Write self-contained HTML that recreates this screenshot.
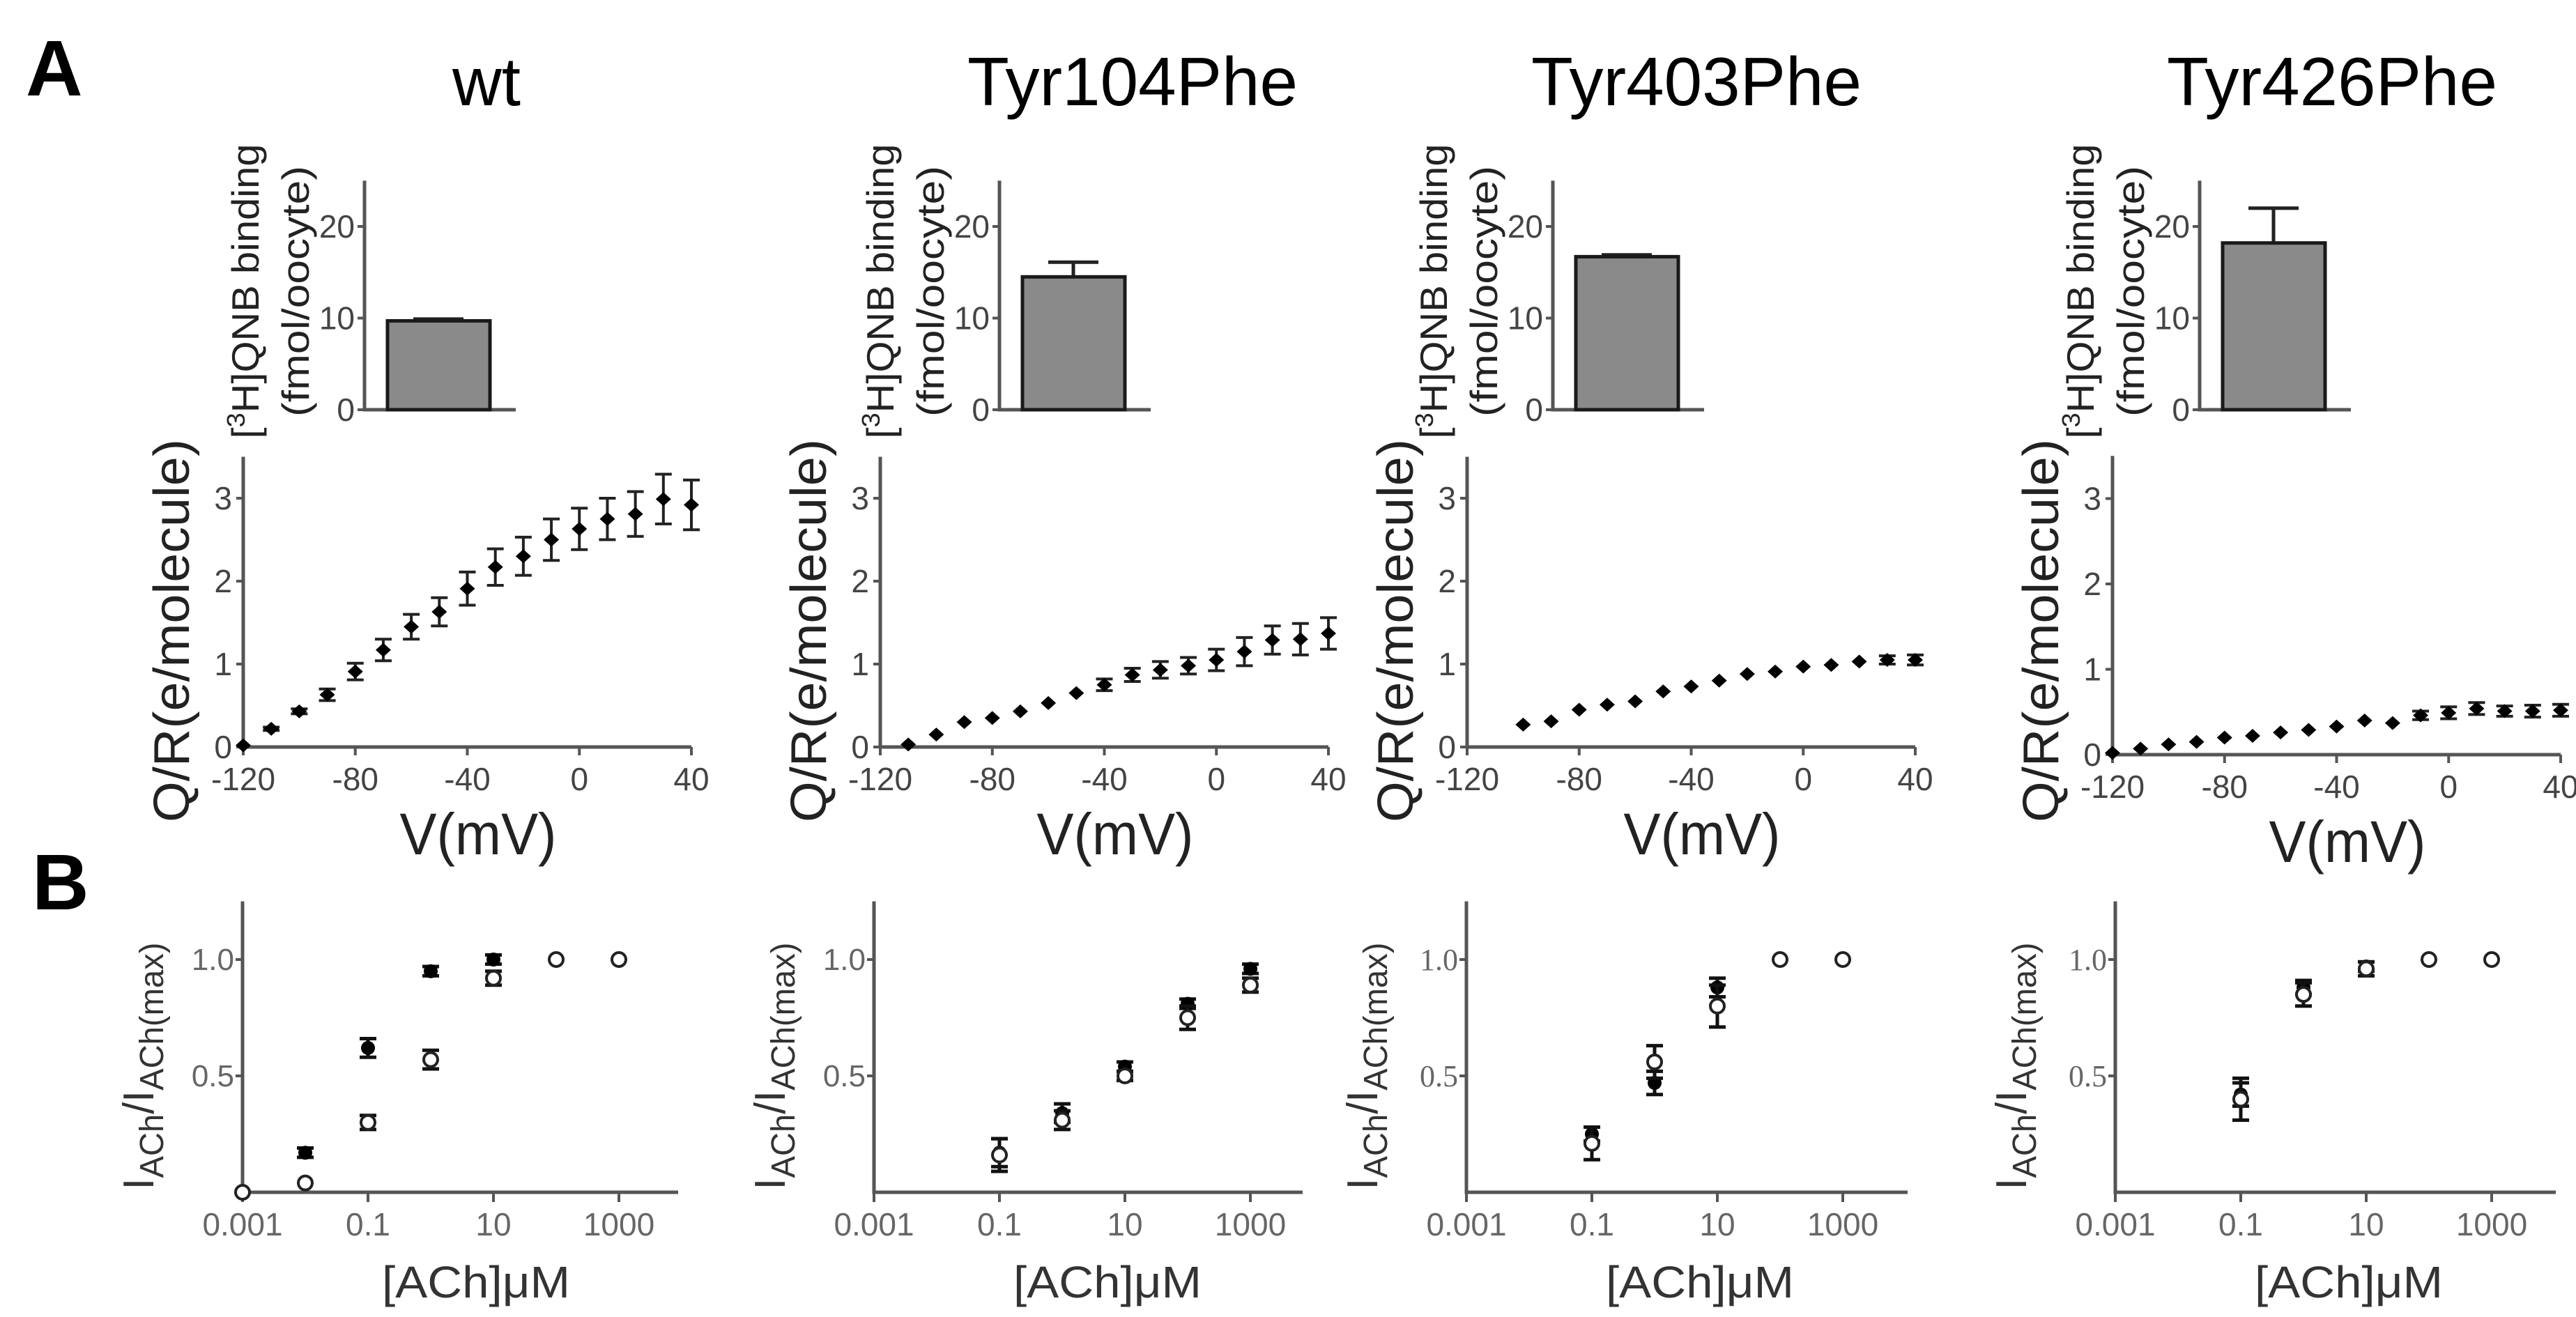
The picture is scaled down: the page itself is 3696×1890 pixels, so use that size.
<!DOCTYPE html>
<html>
<head>
<meta charset="utf-8">
<style>
  html, body { margin:0; padding:0; background:#fff; }
  body { width:3696px; height:1890px; overflow:hidden; }
  svg { display:block; font-family:"Liberation Sans", sans-serif; }
</style>
</head>
<body>
<svg id="chart" width="3696" height="1890" viewBox="0 0 3696 1890" xmlns="http://www.w3.org/2000/svg">
  <rect x="0" y="0" width="3696" height="1890" fill="#fff"/>
  <text x="37" y="137" font-size="113" font-weight="bold" fill="#000">A</text>
  <text x="46" y="1305" font-size="113" font-weight="bold" fill="#000">B</text>
</svg>
<script>
// ---------- DATA ----------
const mutants = ["wt", "Tyr104Phe", "Tyr403Phe", "Tyr426Phe"];
const barMeans = [9.7, 14.5, 16.7, 18.2];
const barErrs = [0.2, 1.6, 0.2, 3.8];
const barTicks = [0, 10, 20];

const qvV0 = [-120,-110,-100,-90,-80,-70,-60,-50,-40,-30,-20,-10,0,10,20,30,40];
const qvQ0 = [0.02,0.22,0.43,0.63,0.91,1.17,1.45,1.63,1.91,2.17,2.30,2.50,2.63,2.75,2.81,2.99,2.92];
const qvE0 = [0,0.02,0.03,0.07,0.10,0.13,0.15,0.17,0.20,0.22,0.23,0.25,0.25,0.25,0.27,0.30,0.30];
const qvV1 = [-110,-100,-90,-80,-70,-60,-50,-40,-30,-20,-10,0,10,20,30,40];
const qvQ1 = [0.03,0.15,0.30,0.35,0.43,0.53,0.65,0.75,0.87,0.93,0.98,1.05,1.15,1.29,1.30,1.37];
const qvE1 = [0,0,0,0,0,0,0,0.07,0.08,0.10,0.10,0.13,0.17,0.17,0.19,0.19];
const qvV2 = [-100,-90,-80,-70,-60,-50,-40,-30,-20,-10,0,10,20,30,40];
const qvQ2 = [0.27,0.31,0.45,0.51,0.55,0.67,0.73,0.80,0.88,0.91,0.97,0.99,1.03,1.05,1.05];
const qvE2 = [0,0,0,0,0,0,0,0,0,0,0,0,0,0.05,0.06];
const qvV3 = [-120,-110,-100,-90,-80,-70,-60,-50,-40,-30,-20,-10,0,10,20,30,40];
const qvQ3 = [0.02,0.07,0.12,0.15,0.20,0.22,0.26,0.29,0.33,0.40,0.37,0.46,0.49,0.54,0.51,0.51,0.52];
const qvE3 = [0,0,0,0,0,0,0,0,0,0,0,0.05,0.07,0.07,0.06,0.07,0.07];
const qvXTicks = [-120, -80, -40, 0, 40];
const qvYTicks = [0, 1, 2, 3];

const doseFilledC0 = [0.01, 0.1, 1, 10];
const doseFilledY0 = [0.17, 0.62, 0.95, 1.0];
const doseFilledE0 = [0.02, 0.04, 0.02, 0.02];
const doseOpenC0 = [0.001, 0.01, 0.1, 1, 10, 100, 1000];
const doseOpenY0 = [0.0, 0.04, 0.30, 0.57, 0.92, 1.0, 1.0];
const doseOpenE0 = [0, 0, 0.03, 0.04, 0.03, 0, 0];

const doseFilledC1 = [0.1, 1, 10, 100, 1000];
const doseFilledY1 = [0.17, 0.34, 0.54, 0.81, 0.96];
const doseFilledE1 = [0.06, 0.04, 0.02, 0.02, 0.02];
const doseOpenC1 = [0.1, 1, 10, 100, 1000];
const doseOpenY1 = [0.16, 0.31, 0.50, 0.75, 0.89];
const doseOpenE1 = [0.07, 0.04, 0.02, 0.05, 0.03];

const doseFilledC2 = [0.1, 1, 10];
const doseFilledY2 = [0.25, 0.47, 0.88];
const doseFilledE2 = [0.03, 0.05, 0.04];
const doseOpenC2 = [0.1, 1, 10, 100, 1000];
const doseOpenY2 = [0.21, 0.56, 0.80, 1.0, 1.0];
const doseOpenE2 = [0.07, 0.07, 0.09, 0, 0];

const doseFilledC3 = [0.1, 1, 10];
const doseFilledY3 = [0.42, 0.88, 0.97];
const doseFilledE3 = [0.05, 0.03, 0.02];
const doseOpenC3 = [0.1, 1, 10, 100, 1000];
const doseOpenY3 = [0.40, 0.85, 0.96, 1.0, 1.0];
const doseOpenE3 = [0.09, 0.05, 0.03, 0, 0];

const doseXTicks = ["0.001", "0.1", "10", "1000"];
const doseYTicks = ["0.5", "1.0"];

// ---------- LAYOUT ----------
const NS = "http://www.w3.org/2000/svg";
const svg = document.getElementById("chart");
const AX = "#555";
const TXT = "#444";

const titleCx = [698, 1625, 2434, 3346];
const barAxisX = [523, 1434, 2228, 3156];
const lineAxisX = [349, 1263, 2105, 3031];
const lineY0 = [1072, 1072, 1072, 1083];
const lineUnit = [119, 119, 119, 122.5];
const doseAxisX = [348, 1254, 2104, 3035];
const doseAxisLen = [625, 615, 633, 632];

const qvV = [qvV0, qvV1, qvV2, qvV3];
const qvQ = [qvQ0, qvQ1, qvQ2, qvQ3];
const qvE = [qvE0, qvE1, qvE2, qvE3];
const dFC = [doseFilledC0, doseFilledC1, doseFilledC2, doseFilledC3];
const dFY = [doseFilledY0, doseFilledY1, doseFilledY2, doseFilledY3];
const dFE = [doseFilledE0, doseFilledE1, doseFilledE2, doseFilledE3];
const dOC = [doseOpenC0, doseOpenC1, doseOpenC2, doseOpenC3];
const dOY = [doseOpenY0, doseOpenY1, doseOpenY2, doseOpenY3];
const dOE = [doseOpenE0, doseOpenE1, doseOpenE2, doseOpenE3];

function mk(tag, attrs, parent) {
  const el = document.createElementNS(NS, tag);
  for (const k in attrs) el.setAttribute(k, attrs[k]);
  (parent || svg).appendChild(el);
  return el;
}
function line(x1, y1, x2, y2, stroke, w, g) {
  return mk("line", {x1:x1, y1:y1, x2:x2, y2:y2, stroke:stroke, "stroke-width":w}, g);
}

for (let p = 0; p < 4; p++) {
  const g = mk("g", {});
  
  

  const t = mk("text", {x:titleCx[p], y:151, "font-size":98, "text-anchor":"middle", fill:"#000"}, g);
  t.textContent = mutants[p];
  
  

  // ----- Bar chart -----
  const bx = barAxisX[p], by0 = 588, bUnit = 13.15;
  const byS = v => by0 - v * bUnit;
  const bAxis = mk("path", {d:`M${bx},${byS(25)} L${bx},${by0} L${bx+217},${by0}`, fill:"none", stroke:AX, "stroke-width":5}, g);
  
  
  barTicks.forEach(v => {
    const tk = line(bx-10, byS(v), bx, byS(v), AX, 4, g);
    
    
    const tl = mk("text", {x:bx-14, y:byS(v)+16, "font-size":46, "text-anchor":"end", fill:TXT}, g);
    tl.textContent = String(v);
    
    
  });
  const bTop = byS(barMeans[p]);
  const eTop = byS(barMeans[p] + barErrs[p]);
  const eb = line(bx+106, eTop, bx+106, bTop, "#222", 5, g);
  
  
  const ec = line(bx+70, eTop, bx+142, eTop, "#222", 5, g);
  
  
  const bar = mk("rect", {x:bx+33, y:bTop, width:147, height:by0-bTop, fill:"#8a8a8a", stroke:"#1a1a1a", "stroke-width":5}, g);
  
  
  const yl1 = mk("text", {transform:`translate(${bx-152},418) rotate(-90)`, "font-size":55, "text-anchor":"middle", fill:"#222", textLength:423, lengthAdjust:"spacingAndGlyphs"}, g);
  yl1.innerHTML = '[<tspan font-size="36" dy="-20">3</tspan><tspan dy="20">H]QNB binding</tspan>';
  
  
  const yl2 = mk("text", {transform:`translate(${bx-80},418) rotate(-90)`, "font-size":55, "text-anchor":"middle", fill:"#222", textLength:360, lengthAdjust:"spacingAndGlyphs"}, g);
  yl2.textContent = "(fmol/oocyte)";
  
  

  // ----- Q/V plot -----
  const lx = lineAxisX[p], ly0 = lineY0[p], lu = lineUnit[p];
  const qx = v => lx + (v + 120) * (643 / 160);
  const qy = q => ly0 - q * lu;
  const lAxis = mk("path", {d:`M${lx},${qy(3.5)} L${lx},${ly0} L${qx(40)},${ly0}`, fill:"none", stroke:AX, "stroke-width":5}, g);
  
  
  qvYTicks.forEach(v => {
    const tk = line(lx-10, qy(v), lx, qy(v), AX, 4, g);
    
    
    const tl = mk("text", {x:lx-16, y:qy(v)+16, "font-size":46, "text-anchor":"end", fill:TXT}, g);
    tl.textContent = String(v);
    
    
  });
  qvXTicks.forEach(v => {
    const tk = line(qx(v), ly0, qx(v), ly0+12, AX, 4, g);
    
    
    const tl = mk("text", {x:qx(v), y:ly0+62, "font-size":46, "text-anchor":"middle", fill:TXT}, g);
    tl.textContent = String(v);
    
    
  });
  const xt = mk("text", {x:lx+337, y:ly0+154, "font-size":84, "text-anchor":"middle", fill:"#222", textLength:225, lengthAdjust:"spacingAndGlyphs"}, g);
  xt.textContent = "V(mV)";
  
  
  const yt = mk("text", {transform:`translate(${lx-78},905) rotate(-90)`, "font-size":72, "text-anchor":"middle", fill:"#222", textLength:550, lengthAdjust:"spacingAndGlyphs"}, g);
  yt.textContent = "Q/R(e/molecule)";
  
  
  const V = qvV[p], Q = qvQ[p], E = qvE[p];
  for (let i = 0; i < V.length; i++) {
    const cx = qx(V[i]), cy = qy(Q[i]);
    if (E[i] > 0) {
      const e1 = qy(Q[i] + E[i]), e2 = qy(Q[i] - E[i]);
      const eb2 = mk("path", {d:`M${cx},${e1} L${cx},${e2} M${cx-12},${e1} L${cx+12},${e1} M${cx-12},${e2} L${cx+12},${e2}`, stroke:"#222", "stroke-width":4, fill:"none"}, g);
      
      
    }
    const d = mk("path", {d:`M${cx},${cy-10} L${cx+11},${cy} L${cx},${cy+10} L${cx-11},${cy} Z`, fill:"#000"}, g);
    
    
  }

  // ----- Dose-response -----
  const dx0 = doseAxisX[p], dy0 = 1711, du = 334;
  const serif = p >= 2;
  const tf = serif ? '"Liberation Serif", serif' : '"Liberation Sans", sans-serif';
  const dxS = c => dx0 + (Math.log10(c) + 3) * 90;
  const dyS = v => dy0 - v * du;
  const dAxis = mk("path", {d:`M${dx0},${dyS(1.25)} L${dx0},${dy0} L${dx0+doseAxisLen[p]},${dy0}`, fill:"none", stroke:AX, "stroke-width":5}, g);
  
  
  doseYTicks.forEach(s => {
    const v = parseFloat(s);
    const tk = line(dx0-10, dyS(v), dx0, dyS(v), AX, 4, g);
    
    
    const tl = mk("text", {x:dx0-12, y:dyS(v)+15, "font-size":44, "text-anchor":"end", fill:"#666", "font-family":tf}, g);
    tl.textContent = s;
    
    
  });
  doseXTicks.forEach(s => {
    const xv = dxS(parseFloat(s));
    const tk = line(xv, dy0, xv, dy0+14, AX, 4, g);
    
    
    const tl = mk("text", {x:xv, y:dy0+62, "font-size":46, "text-anchor":"middle", fill:"#666"}, g);
    tl.textContent = s;
    
    
  });
  const dxt = mk("text", {x:dx0+335, y:1862, "font-size":64, "text-anchor":"middle", fill:"#333", textLength:270, lengthAdjust:"spacingAndGlyphs"}, g);
  dxt.textContent = "[ACh]\u03BCM";
  
  
  const dyt = mk("text", {transform:`translate(${dx0-128},1530) rotate(-90)`, "font-size":62, "text-anchor":"middle", fill:"#333", textLength:355, lengthAdjust:"spacingAndGlyphs"}, g);
  dyt.innerHTML = 'I<tspan font-size="48" dy="14">ACh</tspan><tspan dy="-14">/I</tspan><tspan font-size="48" dy="14">ACh(max)</tspan>';
  
  

  const drawErr = (cx, v, e) => {
    const e1 = dyS(v + e), e2 = dyS(v - e);
    const eb3 = mk("path", {d:`M${cx},${e1} L${cx},${e2} M${cx-12},${e1} L${cx+12},${e1} M${cx-12},${e2} L${cx+12},${e2}`, stroke:"#111", "stroke-width":5, fill:"none"}, g);
    
    
  };
  const FC = dFC[p], FY = dFY[p], FE = dFE[p];
  for (let i = 0; i < FC.length; i++) {
    const cx = dxS(FC[i]);
    if (FE[i] > 0) drawErr(cx, FY[i], FE[i]);
    const c = mk("circle", {cx:cx, cy:dyS(FY[i]), r:10, fill:"#000"}, g);
    
    
  }
  const OC = dOC[p], OY = dOY[p], OE = dOE[p];
  for (let i = 0; i < OC.length; i++) {
    const cx = dxS(OC[i]);
    if (OE[i] > 0) drawErr(cx, OY[i], OE[i]);
    const c = mk("circle", {cx:cx, cy:dyS(OY[i]), r:10, fill:"#fff", stroke:"#222", "stroke-width":4}, g);
    
    
  }
}
</script>
</body>
</html>
